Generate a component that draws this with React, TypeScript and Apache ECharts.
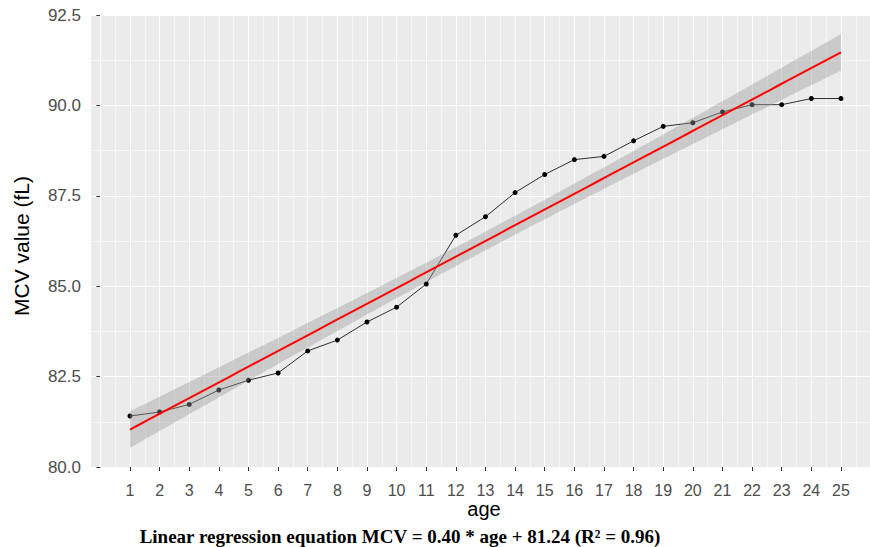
import { useEffect, useRef } from "react";
import * as echarts from "echarts";

// ---- data ----
const ages: number[] = [1, 2, 3, 4, 5, 6, 7, 8, 9, 10, 11, 12, 13, 14, 15, 16, 17, 18, 19, 20, 21, 22, 23, 24, 25];
const mcvValues: number[] = [
  81.41, 81.52, 81.73, 82.13, 82.4, 82.6, 83.21, 83.51, 84.01, 84.42, 85.06, 86.41, 86.92,
  87.59, 88.09, 88.5, 88.59, 89.02, 89.42, 89.52, 89.82, 90.02, 90.02, 90.19, 90.19,
];
const xTickValues: number[] = ages;
const yTickLabels: string[] = ["80.0", "82.5", "85.0", "87.5", "90.0", "92.5"];
const xTitle = "age";
const yTitle = "MCV value (fL)";
const caption = "Linear regression equation MCV = 0.40 * age + 81.24 (R² = 0.96)";

// linear model fit (what geom_smooth(method = "lm") draws), computed from the data
function lmFit(x: number[], y: number[]) {
  const n = x.length;
  const mx = x.reduce((a, b) => a + b, 0) / n;
  const my = y.reduce((a, b) => a + b, 0) / n;
  let sxx = 0, sxy = 0;
  for (let i = 0; i < n; i++) {
    sxx += (x[i] - mx) ** 2;
    sxy += (x[i] - mx) * (y[i] - my);
  }
  const b = sxy / sxx;
  const a = my - b * mx;
  let sse = 0;
  for (let i = 0; i < n; i++) sse += (y[i] - (a + b * x[i])) ** 2;
  const s = Math.sqrt(sse / (n - 2));
  return { a, b, s, mx, sxx, n };
}

export default function App() {
  const ref = useRef<HTMLDivElement>(null);

  useEffect(() => {
    if (!ref.current) return;
    const chart = echarts.init(ref.current, undefined, { renderer: "svg" });

    const fit = lmFit(ages, mcvValues);
    const tCrit = 2.0687; // t(0.975, df = 23)
    const nPts = 80;
    const xMin = ages[0];
    const xMax = ages[ages.length - 1];
    const fitLine: number[][] = [];
    const bandLow: number[][] = [];
    const bandHigh: number[][] = [];
    for (let i = 0; i < nPts; i++) {
      const x = xMin + ((xMax - xMin) * i) / (nPts - 1);
      const yh = fit.a + fit.b * x;
      const se = fit.s * Math.sqrt(1 / fit.n + (x - fit.mx) ** 2 / fit.sxx);
      const hw = tCrit * se;
      fitLine.push([x, yh]);
      bandLow.push([x, yh - hw]);
      bandHigh.push([x, yh + hw]);
    }

    const observed = ages.map((a, i) => [a, mcvValues[i]]);

    // vertical panel grid: major at each age, minor half-way
    const vGrid: { xAxis: number; lineStyle: any }[] = [];
    for (let v = 0; v <= 25.5; v += 0.5) {
      vGrid.push({
        xAxis: v,
        lineStyle: { color: "#ffffff", width: Number.isInteger(v) ? 1.1 : 0.6, type: "solid" },
      });
    }

    const labelColor = "#4d4d4d";

    chart.setOption({
      animation: false,
      backgroundColor: "#ffffff",
      grid: {
        left: 91,
        right: 0,
        top: 15,
        bottom: 80,
        show: true,
        backgroundColor: "#ebebeb",
        borderWidth: 0,
      },
      xAxis: {
        type: "value",
        min: -0.316,
        max: 25.98,
        axisLine: { show: false },
        axisTick: {
          show: true,
          customValues: xTickValues,
          length: 4,
          lineStyle: { color: "#333333", width: 1 },
        },
        axisLabel: {
          customValues: xTickValues,
          color: labelColor,
          fontFamily: "Liberation Sans",
          fontSize: 16,
          margin: 15,
        },
        splitLine: { show: false },
      },
      yAxis: {
        type: "value",
        min: 80,
        max: 92.5,
        interval: 2.5,
        axisLine: { show: false },
        axisTick: { show: true, length: 4, lineStyle: { color: "#333333", width: 1 } },
        axisLabel: {
          color: labelColor,
          fontFamily: "Liberation Sans",
          fontSize: 17,
          margin: 10,
          formatter: (v: number) => {
            const idx = Math.round((v - 80) / 2.5);
            return yTickLabels[idx] ?? v.toFixed(1);
          },
        },
        splitLine: { show: true, lineStyle: { color: "#ffffff", width: 1.1 } },
        minorTick: { show: false, splitNumber: 2 },
        minorSplitLine: { show: true, lineStyle: { color: "#ffffff", width: 0.6 } },
      },
      series: [
        {
          name: "vgrid",
          type: "line",
          data: [],
          z: 1,
          silent: true,
          markLine: {
            z: 1,
            silent: true,
            symbol: ["none", "none"],
            label: { show: false },
            animation: false,
            data: vGrid,
          },
        },
        {
          name: "observed",
          type: "line",
          data: observed,
          z: 3,
          symbol: "circle",
          symbolSize: 5,
          showSymbol: true,
          itemStyle: { color: "#000000", borderWidth: 0 },
          lineStyle: { color: "#1a1a1a", width: 0.9 },
        },
        {
          name: "band",
          type: "custom",
          z: 4,
          silent: true,
          clip: true,
          data: bandHigh,
          renderItem: (params: any, api: any) => {
            if (params.dataIndex !== 0) return null;
            const upper = bandHigh.map((p) => api.coord(p));
            const lower = bandLow.map((p) => api.coord(p)).reverse();
            return {
              type: "polygon",
              shape: { points: upper.concat(lower) },
              style: { fill: "rgba(153,153,153,0.4)", stroke: "none" },
            };
          },
        },
        {
          name: "fit",
          type: "line",
          data: fitLine,
          z: 5,
          symbol: "none",
          lineStyle: { color: "#ff0000", width: 2 },
        },
      ],
      graphic: [
        {
          type: "text",
          x: 21,
          y: 246,
          rotation: Math.PI / 2,
          style: {
            text: yTitle,
            fill: "#000000",
            font: '21px "Liberation Sans"',
            align: "center",
            verticalAlign: "middle",
          },
        },
        {
          type: "text",
          x: 484,
          y: 509,
          style: {
            text: xTitle,
            fill: "#000000",
            font: '20px "Liberation Sans"',
            align: "center",
            verticalAlign: "middle",
          },
        },
        {
          type: "text",
          x: 400,
          y: 536,
          style: {
            text: caption,
            fill: "#000000",
            font: 'bold 19px "Liberation Serif"',
            align: "center",
            verticalAlign: "middle",
          },
        },
      ],
    });

    return () => chart.dispose();
  }, []);

  return <div ref={ref} style={{ width: 870, height: 547, position: "absolute", left: 0, top: 0 }} />;
}
